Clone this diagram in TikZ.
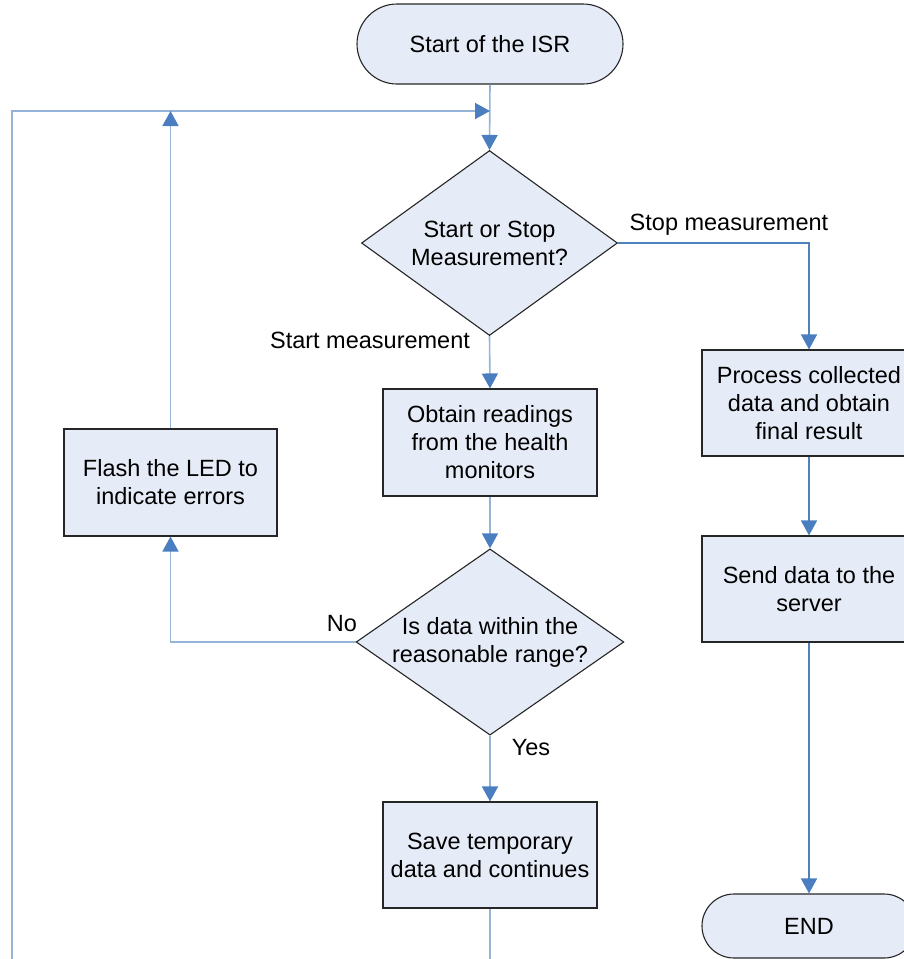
\documentclass[tikz,border=0pt]{standalone}
\usepackage{fontspec}
\setmainfont{Liberation Sans}
\usetikzlibrary{shapes.geometric,arrows.meta,shadows}

\definecolor{boxfill}{HTML}{E6ECF7}
\definecolor{flowlight}{HTML}{95B3D7}
\definecolor{flowdark}{HTML}{4F81BD}
\definecolor{tipblue}{HTML}{4A7EC0}

\tikzset{
  every node/.style={font=\fontsize{23.5}{28}\selectfont},
  shade box/.style={drop shadow={shadow xshift=1.2pt,shadow yshift=-1.2pt,fill=black!60,opacity=0.8}},
  procbox/.style={draw=black!85,line width=1.1pt,fill=boxfill,rectangle,align=center,
    minimum width=214pt,minimum height=107pt,inner sep=2pt,shade box},
  terminal/.style={draw=black!85,line width=1.1pt,fill=boxfill,rectangle,rounded corners=#1,
    align=center,inner sep=2pt},
  decision/.style={draw=black!85,line width=1.1pt,fill=boxfill,diamond,align=center,inner sep=0pt},
  flow/.style={draw=flowlight,line width=1.6pt},
  flowd/.style={draw=flowdark,line width=1.6pt},
  tip/.style={-{Triangle[length=15pt,width=16pt,color=tipblue]}},
  lbl/.style={inner sep=0pt}
}

\begin{document}
\begin{tikzpicture}[x=1pt,y=-1pt]
  \clip (0,0) rectangle (904,959);
  \useasboundingbox (0,0) rectangle (904,959);

  % central column
  \node[terminal=40pt,minimum width=266pt,minimum height=80pt] (start) at (490,44) {Start of the ISR};
  \node[decision,aspect=1.384,minimum width=256pt,minimum height=185pt] (d1) at (489.5,243) {Start or Stop\\Measurement?};
  \node[procbox] (obtain) at (490,442.5) {Obtain readings\\from the health\\monitors};
  \node[decision,aspect=1.438,minimum width=266pt,minimum height=185pt] (d2) at (490,642) {Is data within the\\reasonable range?};
  \node[procbox,minimum height=106pt] (save) at (490,855) {Save temporary\\data and continues};

  % left column
  \node[procbox,minimum width=213pt] (flash) at (170.5,482.5) {Flash the LED to\\indicate errors};

  % right column
  \node[procbox,minimum height=106pt] (process) at (809,403) {Process collected\\data and obtain\\final result};
  \node[procbox,minimum height=106pt] (send) at (809,589) {Send data to the\\server};
  \node[terminal=32pt,minimum width=214pt,minimum height=64pt] (end) at (809,926) {END};

  % loop-back junction above the first decision
  \coordinate (j) at (490,111);
  \coordinate (lb) at (12,990);

  % connectors
  \draw[flow,tip] (start.south) -- (d1.north);
  \draw[flow,tip] (save.south) |- (lb) -- (lb |- j) -- (j);
  \draw[flow,tip] (flash.north) -- (flash.north |- j);
  \draw[flow,tip] (d1.south) -- (obtain.north);
  \draw[flowd,tip] (d1.east) -| (process.north);
  \draw[flow,tip] (obtain.south) -- (d2.north);
  \draw[flow,tip] (d2.west) -| (flash.south);
  \draw[flow,tip] (d2.south) -- (save.north);
  \draw[flowd,tip] (process.south) -- (send.north);
  \draw[flowd,tip] (send.south) -- (end.north);

  % branch labels
  \node[lbl] (lstart) at (370,340) {Start measurement};
  \node[lbl] (lstop) at (729,225) {Stop measurement};
  \node[lbl] (lno) at (342,624) {No};
  \node[lbl] (lyes) at (531,748) {Yes};
\end{tikzpicture}
\end{document}
